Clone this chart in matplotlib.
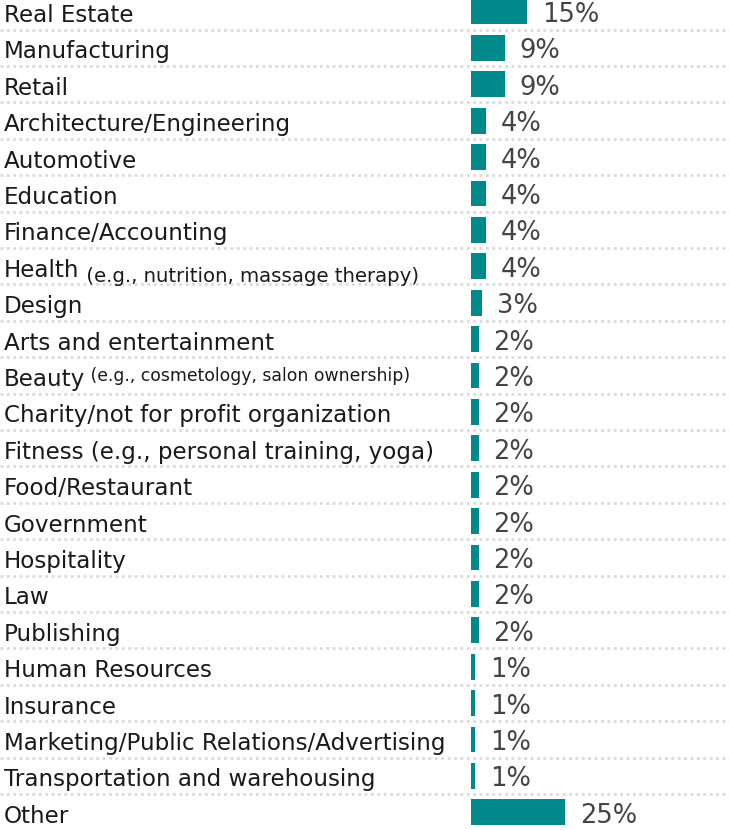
import matplotlib
matplotlib.use("Agg")
import matplotlib.pyplot as plt

categories = ["Real Estate", "Manufacturing", "Retail", "Architecture/Engineering",
              "Automotive", "Education", "Finance/Accounting", "Health",
              "Design", "Arts and entertainment", "Beauty",
              "Charity/not for profit organization",
              "Fitness (e.g., personal training, yoga)", "Food/Restaurant",
              "Government", "Hospitality", "Law", "Publishing",
              "Human Resources", "Insurance",
              "Marketing/Public Relations/Advertising",
              "Transportation and warehousing", "Other"]
notes = {"Health": " (e.g., nutrition, massage therapy)",
         "Beauty": " (e.g., cosmetology, salon ownership)"}
values = [15, 9, 9, 4, 4, 4, 4, 4, 3, 2, 2, 2, 2, 2, 2, 2, 2, 2, 1, 1, 1, 1, 25]

W, H = 729, 830
fig = plt.figure(figsize=(W/100, H/100), dpi=100)
ax = fig.add_axes([0, 0, 1, 1])
pxu = 3.76
x0 = 471
ax.set_xlim(-x0/pxu, (W-x0)/pxu)
row = 36.4
c0 = 11.5
ax.set_ylim(22 + (H - (c0 + 22*row))/row, -c0/row)
ax.axis("off")

n = len(categories)
ys = list(range(n))
ax.barh(ys, values, height=0.71, color="#00898a", left=0)
for i in range(n - 1):
    ax.plot([-x0/pxu, (W-x0)/pxu], [i + 0.5, i + 0.5], color="#dadada",
            lw=2.0, ls=(0, (1, 1.3)), solid_capstyle="butt")

fam = "DejaVu Sans"
lx = -x0/pxu + 4/pxu
for i, (c, v) in enumerate(zip(categories, values)):
    t = ax.text(lx, i + 0.29, c, fontsize=16.6, family=fam, color="#1a1a1a",
                va="baseline", ha="left")
    if c in notes:
        if c == "Beauty":
            ax.annotate(notes[c], xy=(1, 0), xycoords=t, xytext=(0, 7),
                        textcoords="offset points", fontsize=12.4, family=fam,
                        color="#1a1a1a", va="baseline", ha="left")
        else:
            ax.annotate(notes[c], xy=(1, 0), xycoords=t, xytext=(0, 0),
                        textcoords="offset points", fontsize=14.2, family=fam,
                        color="#1a1a1a", va="baseline", ha="left")
    ax.text(v + 15/pxu, i + 0.29, f"{v}%", fontsize=18.5, family=fam,
            color="#444444", va="baseline", ha="left")

fig.savefig("out.png", dpi=100)
